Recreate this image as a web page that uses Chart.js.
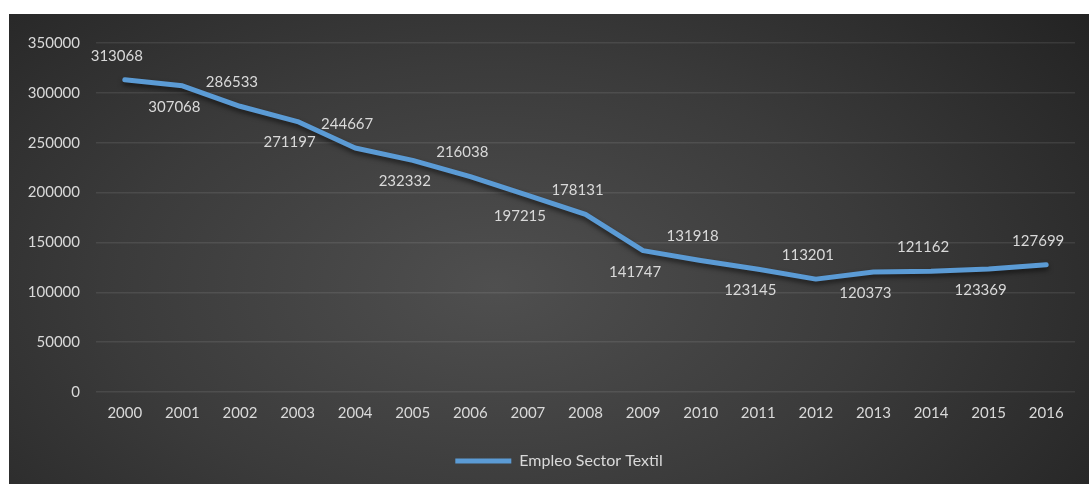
<!DOCTYPE html>
<html>
<head>
<meta charset="utf-8">
<script src="https://cdn.jsdelivr.net/npm/chart.js@4.4.1/dist/chart.umd.min.js"></script>
<style>
  html, body { margin: 0; padding: 0; background: #ffffff; width: 1089px; height: 484px; overflow: hidden; }
  #wrap {
    position: absolute; left: 9px; top: 14px; width: 1080px; height: 470px;
    background: radial-gradient(ellipse 70% 95% at 45% 58%, #4f4f4f 0%, #3b3b3b 50%, #232323 100%);
  }
  canvas { display: block; }
</style>
</head>
<body>
<div id="wrap"><canvas id="c" width="1080" height="470"></canvas></div>
<script>
const years = ['2000','2001','2002','2003','2004','2005','2006','2007','2008','2009','2010','2011','2012','2013','2014','2015','2016'];
const empleo = [313068, 307068, 286533, 271197, 244667, 232332, 216038, 197215, 178131, 141747, 131918, 123145, 113201, 120373, 121162, 123369, 127699];
const seriesName = 'Empleo Sector Textil';
const yTicks = { min: 0, max: 350000, step: 50000 };

const FONT = 'Lato, "Open Sans", sans-serif';
const TEXT = '#d9d9d9';

const shadowPlugin = {
  id: 'lineShadow',
  beforeDatasetDraw(chart) {
    const ctx = chart.ctx;
    ctx.save();
    ctx.shadowColor = 'rgba(0,0,0,0.55)';
    ctx.shadowBlur = 5;
    ctx.shadowOffsetY = 3;
  },
  afterDatasetDraw(chart) { chart.ctx.restore(); }
};

const legendShift = {
  id: 'legendShift',
  afterLayout(chart) {
    if (chart.legend) { chart.legend.left += 17; chart.legend.right += 17; }
  }
};

const labelPlugin = {
  id: 'valueLabels',
  afterDatasetsDraw(chart) {
    const ctx = chart.ctx;
    const meta = chart.getDatasetMeta(0);
    const data = chart.data.datasets[0].data;
    ctx.save();
    ctx.font = '15px ' + FONT;
    ctx.fillStyle = TEXT;
    ctx.textAlign = 'center';
    ctx.textBaseline = 'middle';
    meta.data.forEach((pt, i) => {
      const dy = (i % 2 === 0) ? -24 : 21;
      ctx.fillText(String(data[i]), pt.x - 8, pt.y + dy);
    });
    ctx.restore();
  }
};

new Chart(document.getElementById('c'), {
  type: 'line',
  data: {
    labels: years,
    datasets: [{
      label: seriesName,
      data: empleo,
      borderColor: '#5b9bd5',
      backgroundColor: '#5b9bd5',
      borderWidth: 5,
      borderCapStyle: 'round',
      borderJoinStyle: 'round',
      pointRadius: 0,
      pointHoverRadius: 0,
      tension: 0,
      fill: false
    }]
  },
  options: {
    responsive: false,
    animation: false,
    devicePixelRatio: 1,
    layout: { padding: { top: 29, right: 14, left: 0, bottom: 5 } },
    plugins: {
      tooltip: { enabled: false },
      legend: {
        position: 'bottom',
        labels: {
          usePointStyle: true,
          pointStyle: 'line',
          pointStyleWidth: 56,
          padding: 4,
          color: TEXT,
          font: { family: FONT, size: 16 }
        }
      }
    },
    scales: {
      x: {
        offset: true,
        grid: { display: false, drawTicks: false },
        border: { display: false },
        ticks: { color: TEXT, font: { family: FONT, size: 15 }, padding: 12, maxRotation: 0, autoSkip: false },
        afterFit(s) { s.height = 57; }
      },
      y: {
        min: yTicks.min,
        max: yTicks.max,
        grid: { color: 'rgba(255,255,255,0.09)', lineWidth: 1.5, drawTicks: false },
        border: { display: false },
        ticks: { stepSize: yTicks.step, color: TEXT, font: { family: FONT, size: 15 }, padding: 16,
                 callback: v => String(v) },
        afterFit(s) { s.width = 87; }
      }
    }
  },
  plugins: [shadowPlugin, legendShift, labelPlugin]
});
</script>
</body>
</html>
